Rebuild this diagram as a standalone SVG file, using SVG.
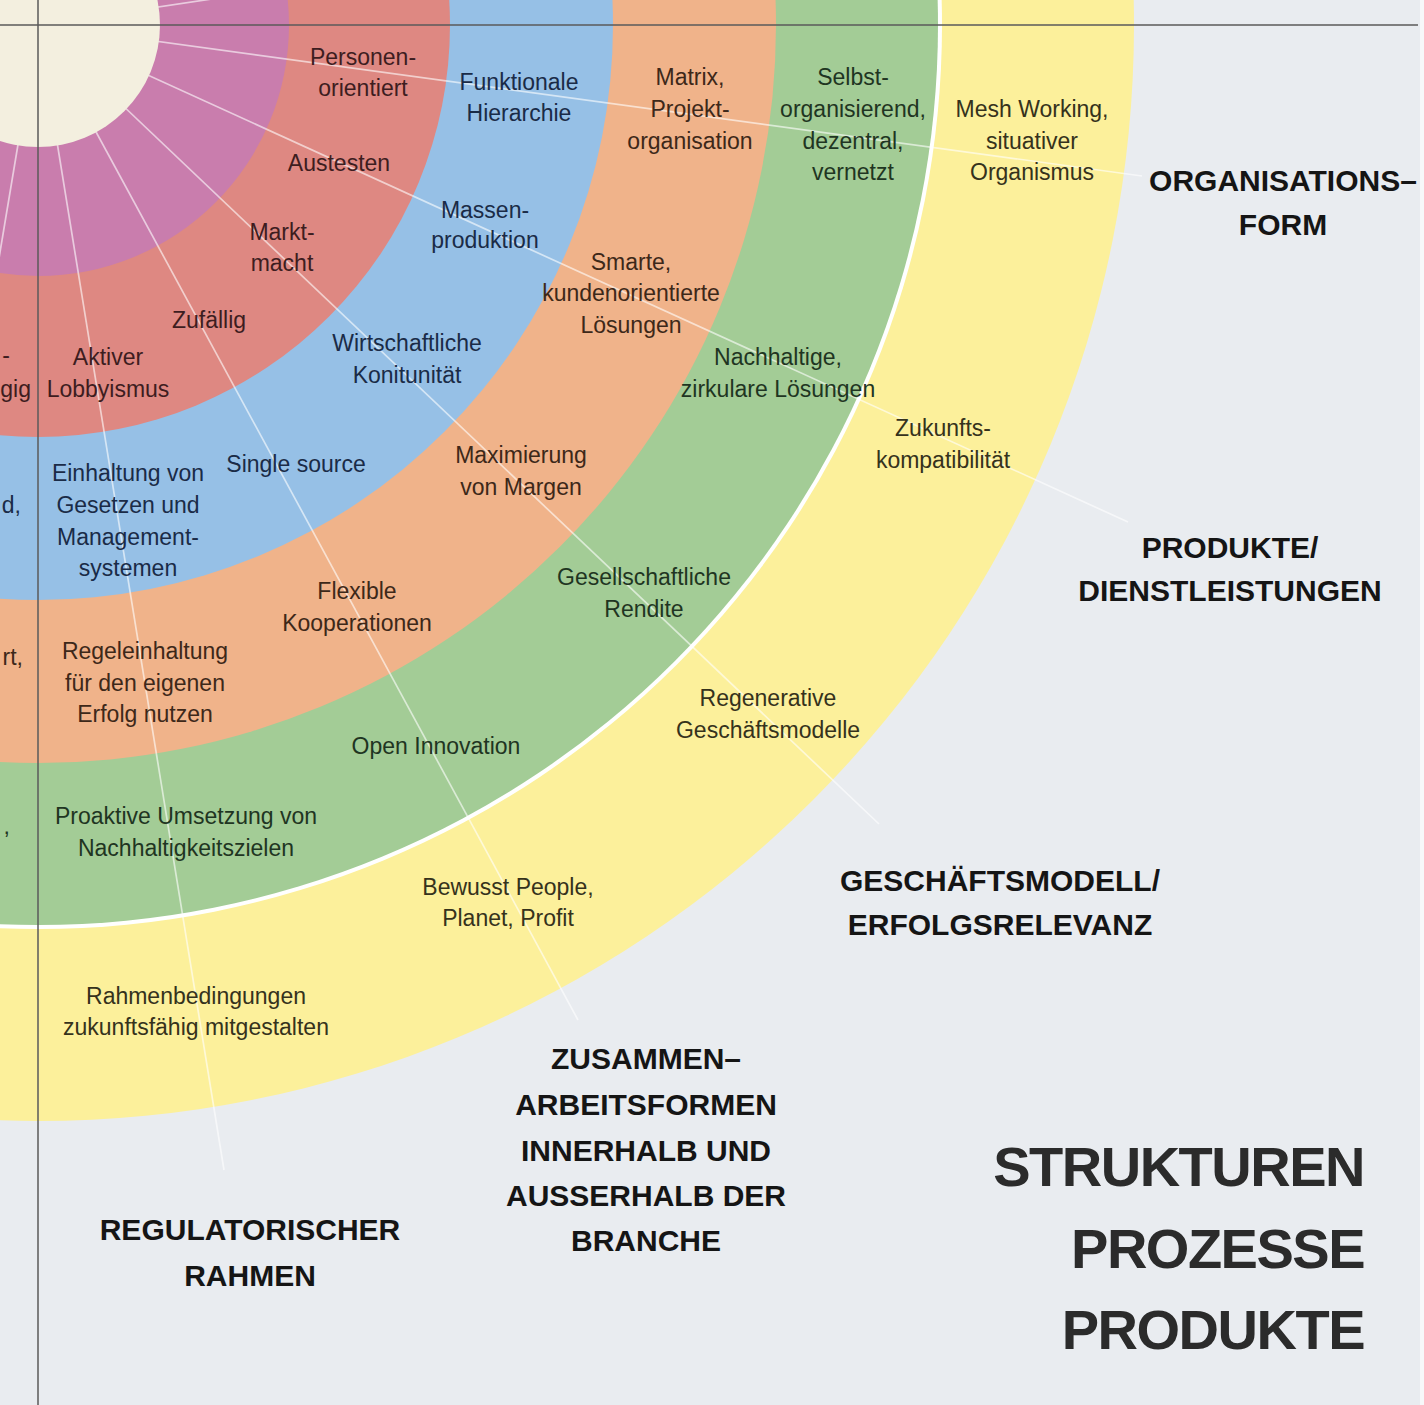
<svg xmlns="http://www.w3.org/2000/svg" width="1424" height="1405" viewBox="0 0 1424 1405">
<style>
.t{font-family:"Liberation Sans",Arial,sans-serif;font-size:23px;text-anchor:middle}
.e{text-anchor:end}
.r{fill:#3d1d1f}.b{fill:#1a2b47}.o{fill:#3d2819}.g{fill:#1f3522}.y{fill:#35321c}
.cat{font-family:"Liberation Sans",Arial,sans-serif;font-size:30px;font-weight:bold;fill:#151515;text-anchor:middle}
.big{font-family:"Liberation Sans",Arial,sans-serif;font-size:56px;font-weight:bold;letter-spacing:-1.5px;fill:#2b2b2b;text-anchor:end}
.ray{stroke:#ffffff;stroke-opacity:0.6;stroke-width:1.7;fill:none}
.axis{stroke:#5a5a5a;stroke-opacity:0.75;stroke-width:2;fill:none}
</style>
<rect x="0" y="0" width="1424" height="1405" fill="#e9ecf0"/>
<rect x="1420" y="0" width="4" height="1405" fill="#f7f8fa"/>
<g id="rings">
<circle cx="38" cy="25" r="1096" fill="#fcf09b"/>
<circle cx="38" cy="25" r="904" fill="#ffffff"/>
<circle cx="38" cy="25" r="900" fill="#a3cc96"/>
<circle cx="38" cy="25" r="738" fill="#f0b38a"/>
<circle cx="38" cy="25" r="575" fill="#96c0e6"/>
<circle cx="38" cy="25" r="412" fill="#de8882"/>
<circle cx="38" cy="25" r="251" fill="#c97dad"/>
</g>
<g id="connectors">
<line class="ray" x1="38" y1="25" x2="245" y2="-6"/>
<line class="ray" x1="38" y1="25" x2="1142" y2="176"/>
<line class="ray" x1="38" y1="25" x2="1128" y2="522"/>
<line class="ray" x1="38" y1="25" x2="879" y2="824"/>
<line class="ray" x1="38" y1="25" x2="578" y2="1020"/>
<line class="ray" x1="38" y1="25" x2="224" y2="1170"/>
<line class="ray" x1="38" y1="25" x2="-14" y2="336"/>
</g>
<circle id="center" cx="38" cy="25" r="122" fill="#f3efdf"/>
<g id="axes">
<line class="axis" x1="0" y1="25" x2="1418" y2="25"/>
<line class="axis" x1="38" y1="0" x2="38" y2="1405"/>
</g>
<g id="ring-red">
<g id="personenorientiert"><text class="t r" x="363" y="65">Personen-</text><text class="t r" x="363" y="96">orientiert</text></g>
<g id="austesten"><text class="t r" x="339" y="171">Austesten</text></g>
<g id="marktmacht"><text class="t r" x="282" y="240">Markt-</text><text class="t r" x="282" y="271">macht</text></g>
<g id="zufaellig"><text class="t r" x="209" y="328">Zufällig</text></g>
<g id="lobbyismus"><text class="t r" x="108" y="365">Aktiver</text><text class="t r" x="108" y="397">Lobbyismus</text></g>
<g id="red-left"><text class="t r e" x="10" y="363">-</text><text class="t r e" x="31" y="397">gig</text></g>
</g>
<g id="ring-blue">
<g id="hierarchie"><text class="t b" x="519" y="90">Funktionale</text><text class="t b" x="519" y="121">Hierarchie</text></g>
<g id="massenproduktion"><text class="t b" x="485" y="218">Massen-</text><text class="t b" x="485" y="248">produktion</text></g>
<g id="kontinuitaet"><text class="t b" x="407" y="351">Wirtschaftliche</text><text class="t b" x="407" y="383">Konitunität</text></g>
<g id="singlesource"><text class="t b" x="296" y="472">Single source</text></g>
<g id="einhaltung"><text class="t b" x="128" y="481">Einhaltung von</text><text class="t b" x="128" y="513">Gesetzen und</text><text class="t b" x="128" y="545">Management-</text><text class="t b" x="128" y="576">systemen</text></g>
<g id="blue-left"><text class="t b e" x="21" y="513">d,</text></g>
</g>
<g id="ring-orange">
<g id="matrix"><text class="t o" x="690" y="85">Matrix,</text><text class="t o" x="690" y="117">Projekt-</text><text class="t o" x="690" y="149">organisation</text></g>
<g id="smarte"><text class="t o" x="631" y="270">Smarte,</text><text class="t o" x="631" y="301">kundenorientierte</text><text class="t o" x="631" y="333">Lösungen</text></g>
<g id="margen"><text class="t o" x="521" y="463">Maximierung</text><text class="t o" x="521" y="495">von Margen</text></g>
<g id="kooperationen"><text class="t o" x="357" y="599">Flexible</text><text class="t o" x="357" y="631">Kooperationen</text></g>
<g id="regeleinhaltung"><text class="t o" x="145" y="659">Regeleinhaltung</text><text class="t o" x="145" y="691">für den eigenen</text><text class="t o" x="145" y="722">Erfolg nutzen</text></g>
<g id="orange-left"><text class="t o e" x="23" y="665">rt,</text></g>
</g>
<g id="ring-green">
<g id="selbstorganisierend"><text class="t g" x="853" y="85">Selbst-</text><text class="t g" x="853" y="117">organisierend,</text><text class="t g" x="853" y="149">dezentral,</text><text class="t g" x="853" y="180">vernetzt</text></g>
<g id="nachhaltige"><text class="t g" x="778" y="365">Nachhaltige,</text><text class="t g" x="778" y="397">zirkulare Lösungen</text></g>
<g id="rendite"><text class="t g" x="644" y="585">Gesellschaftliche</text><text class="t g" x="644" y="617">Rendite</text></g>
<g id="openinnovation"><text class="t g" x="436" y="754">Open Innovation</text></g>
<g id="proaktiv"><text class="t g" x="186" y="824">Proaktive Umsetzung von</text><text class="t g" x="186" y="856">Nachhaltigkeitszielen</text></g>
<g id="green-left"><text class="t g e" x="10" y="834">,</text></g>
</g>
<g id="ring-yellow">
<g id="meshworking"><text class="t y" x="1032" y="117">Mesh Working,</text><text class="t y" x="1032" y="149">situativer</text><text class="t y" x="1032" y="180">Organismus</text></g>
<g id="zukunft"><text class="t y" x="943" y="436">Zukunfts-</text><text class="t y" x="943" y="468">kompatibilität</text></g>
<g id="regenerativ"><text class="t y" x="768" y="706">Regenerative</text><text class="t y" x="768" y="738">Geschäftsmodelle</text></g>
<g id="bewusst"><text class="t y" x="508" y="895">Bewusst People,</text><text class="t y" x="508" y="926">Planet, Profit</text></g>
<g id="rahmenbedingungen"><text class="t y" x="196" y="1004">Rahmenbedingungen</text><text class="t y" x="196" y="1035">zukunftsfähig mitgestalten</text></g>
</g>
<g id="categories">
<g id="cat-organisation"><text class="cat" x="1283" y="191">ORGANISATIONS–</text><text class="cat" x="1283" y="235">FORM</text></g>
<g id="cat-produkte"><text class="cat" x="1230" y="558">PRODUKTE/</text><text class="cat" x="1230" y="601">DIENSTLEISTUNGEN</text></g>
<g id="cat-geschaeftsmodell"><text class="cat" x="1000" y="891">GESCHÄFTSMODELL/</text><text class="cat" x="1000" y="935">ERFOLGSRELEVANZ</text></g>
<g id="cat-zusammenarbeit"><text class="cat" x="646" y="1069">ZUSAMMEN–</text><text class="cat" x="646" y="1115">ARBEITSFORMEN</text><text class="cat" x="646" y="1161">INNERHALB UND</text><text class="cat" x="646" y="1206">AUSSERHALB DER</text><text class="cat" x="646" y="1251">BRANCHE</text></g>
<g id="cat-regulatorisch"><text class="cat" x="250" y="1240">REGULATORISCHER</text><text class="cat" x="250" y="1286">RAHMEN</text></g>
</g>
<g id="title">
<text class="big" x="1364" y="1186">STRUKTUREN</text>
<text class="big" x="1364" y="1268">PROZESSE</text>
<text class="big" x="1364" y="1349">PRODUKTE</text>
</g>
</svg>
